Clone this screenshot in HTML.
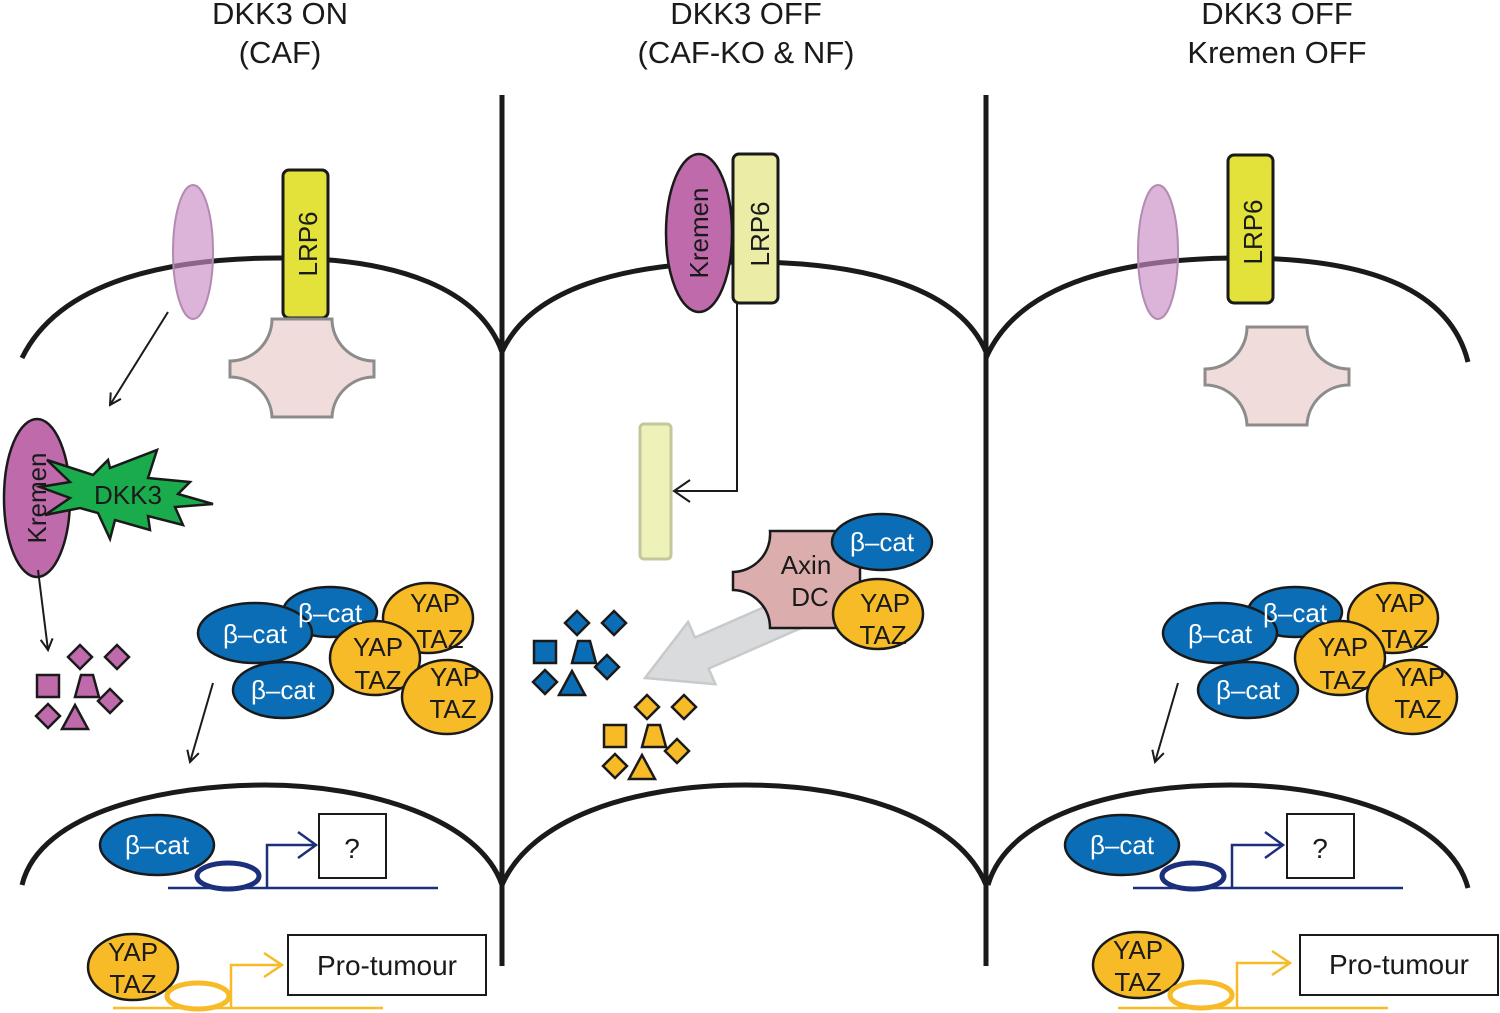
<!DOCTYPE html>
<html><head><meta charset="utf-8"><style>
html,body{margin:0;padding:0;background:#fff;}
svg{display:block;}
text{font-family:"Liberation Sans",Arial,sans-serif;}
</style></head><body>
<svg width="1500" height="1013" viewBox="0 0 1500 1013" xmlns="http://www.w3.org/2000/svg">
<defs>
  <g id="sh" stroke="#1a1a1a" stroke-width="2.5">
    <rect x="-11" y="-11" width="22" height="22"/>
    <polygon points="32,-41 44,-29 32,-17 20,-29"/>
    <polygon points="69,-41 81,-29 69,-17 57,-29"/>
    <polygon points="62,3 74,15 62,27 50,15"/>
    <polygon points="0,18 12,30 0,42 -12,30"/>
    <polygon points="33,-11 45,-11 51,11 27,11"/>
    <polygon points="27,19 40,43 14,43"/>
  </g>
  <marker id="ah" markerWidth="14" markerHeight="14" refX="12" refY="7" orient="auto" markerUnits="userSpaceOnUse">
    <path d="M1,1 L12,7 L1,13" fill="none" stroke="#1a1a1a" stroke-width="2"/>
  </marker>
</defs>

<g font-size="31" fill="#1a1a1a" text-anchor="middle">
  <text x="280" y="24">DKK3 ON</text>
  <text x="280" y="63">(CAF)</text>
  <text x="746" y="24">DKK3 OFF</text>
  <text x="746" y="63">(CAF-KO &amp; NF)</text>
  <text x="1277" y="24">DKK3 OFF</text>
  <text x="1277" y="63">Kremen OFF</text>
</g>

<line x1="502" y1="95" x2="502" y2="966" stroke="#1a1a1a" stroke-width="5"/>
<line x1="986" y1="95" x2="986" y2="966" stroke="#1a1a1a" stroke-width="5"/>

<g fill="none" stroke="#1a1a1a" stroke-width="5">
  <path d="M22,358 C60,280 170,258 280,258 C400,258 480,290 502,352"/>
  <path d="M502,352 C530,290 620,262 745,262 C870,262 960,290 986,352"/>
  <path d="M986,358 C1020,280 1130,258 1240,258 C1370,258 1450,290 1468,362"/>
  <path d="M22,885 C40,810 170,785 265,785 C370,785 480,820 502,885"/>
  <path d="M502,885 C530,820 630,785 745,785 C860,785 960,820 986,885"/>
  <path d="M988,885 C1010,810 1130,785 1230,785 C1340,785 1450,820 1468,888"/>
</g>

<!-- LEFT -->
<ellipse cx="193" cy="252" rx="20" ry="67" fill="#c98ac4" fill-opacity="0.65" stroke="#b38ab0" stroke-width="2"/>
<rect x="283" y="170" width="45" height="148" rx="6" fill="#e2e23a" stroke="#1a1a1a" stroke-width="3"/>
<text transform="translate(317,244) rotate(-90)" font-size="26" text-anchor="middle" fill="#1a1a1a">LRP6</text>
<path d="M272,319 L332,319 A42,42 0 0 0 374,361 L374,377 A42,42 0 0 0 332,417 L272,417 A42,42 0 0 0 230,377 L230,361 A42,42 0 0 0 272,319 Z" fill="#f1dcdc" stroke="#8c8c8c" stroke-width="3"/>
<line x1="168" y1="312" x2="110" y2="405" stroke="#1a1a1a" stroke-width="2" marker-end="url(#ah)"/>

<ellipse cx="37" cy="498" rx="33" ry="79" fill="#be6aab" stroke="#1a1a1a" stroke-width="2.5"/>
<text transform="translate(46,498) rotate(-90)" font-size="26" text-anchor="middle" fill="#1a1a1a">Kremen</text>
<polygon points="47,460 93,475 108,460 110,468 157,450 148,478 190,482 178,494 213,504 175,507 183,525 148,516 150,530 115,520 110,539 98,513 80,508 45,515 70,498 40,487 70,482" fill="#1aac4c" stroke="#1a1a1a" stroke-width="2.5"/>
<text x="128" y="504" font-size="26" text-anchor="middle" fill="#1a1a1a">DKK3</text>
<line x1="38" y1="570" x2="48" y2="650" stroke="#1a1a1a" stroke-width="2" marker-end="url(#ah)"/>
<use href="#sh" transform="translate(48,686)" fill="#be6aab"/>

<g stroke="#1a1a1a" stroke-width="2.5">
  <ellipse cx="330" cy="612" rx="47" ry="25" fill="#0a6db5"/>
  <ellipse cx="255" cy="633" rx="57" ry="30" fill="#0a6db5"/>
  <ellipse cx="283" cy="690" rx="50" ry="28" fill="#0a6db5"/>
  <ellipse cx="428" cy="618" rx="45" ry="35" fill="#f7bb27"/>
  <ellipse cx="375" cy="658" rx="45" ry="37" fill="#f7bb27"/>
  <ellipse cx="447" cy="697" rx="45" ry="37" fill="#f7bb27"/>
</g>
<g font-size="26" fill="#fff" text-anchor="middle">
  <text x="330" y="622">β–cat</text>
  <text x="255" y="643">β–cat</text>
  <text x="283" y="699">β–cat</text>
</g>
<g font-size="26" fill="#1a1a1a" text-anchor="middle">
  <text x="435" y="612">YAP</text><text x="440" y="648">TAZ</text>
  <text x="378" y="656">YAP</text><text x="378" y="689">TAZ</text>
  <text x="455" y="686">YAP</text><text x="453" y="718">TAZ</text>
</g>
<line x1="213" y1="683" x2="190" y2="762" stroke="#1a1a1a" stroke-width="2" marker-end="url(#ah)"/>

<line x1="168" y1="888" x2="438" y2="888" stroke="#1c2f7a" stroke-width="2.5"/>
<ellipse cx="157" cy="845" rx="57" ry="30" fill="#0a6db5" stroke="#1a1a1a" stroke-width="2.5"/>
<text x="157" y="854" font-size="26" fill="#fff" text-anchor="middle">β–cat</text>
<ellipse cx="228" cy="876" rx="31" ry="13" fill="none" stroke="#1c2f7a" stroke-width="5"/>
<path d="M267,888 L267,845 L316,845 M298,832 L316,845 L298,858" fill="none" stroke="#1c2f7a" stroke-width="2.5"/>
<rect x="319" y="814" width="67" height="64" fill="#fff" stroke="#1a1a1a" stroke-width="2"/>
<text x="352" y="858" font-size="28" text-anchor="middle" fill="#1a1a1a">?</text>

<line x1="113" y1="1008" x2="383" y2="1008" stroke="#f7bb27" stroke-width="2.5"/>
<ellipse cx="133" cy="967" rx="45" ry="33" fill="#f7bb27" stroke="#1a1a1a" stroke-width="2.5"/>
<text x="133" y="961" font-size="26" text-anchor="middle" fill="#1a1a1a">YAP</text>
<text x="133" y="993" font-size="26" text-anchor="middle" fill="#1a1a1a">TAZ</text>
<ellipse cx="198" cy="996" rx="31" ry="13" fill="none" stroke="#f7bb27" stroke-width="5"/>
<path d="M231,1008 L231,965 L282,965 M264,953 L282,965 L264,977" fill="none" stroke="#f7bb27" stroke-width="2.5"/>
<rect x="288" y="935" width="198" height="60" fill="#fff" stroke="#1a1a1a" stroke-width="2"/>
<text x="387" y="975" font-size="28" text-anchor="middle" fill="#1a1a1a">Pro-tumour</text>

<!-- MIDDLE -->
<ellipse cx="699" cy="233" rx="33" ry="79" fill="#be6aab" stroke="#1a1a1a" stroke-width="2.5"/>
<text transform="translate(708,233) rotate(-90)" font-size="26" text-anchor="middle" fill="#1a1a1a">Kremen</text>
<rect x="733" y="154" width="45" height="149" rx="6" fill="#ebeda6" stroke="#1a1a1a" stroke-width="3"/>
<text transform="translate(769,234) rotate(-90)" font-size="26" text-anchor="middle" fill="#1a1a1a">LRP6</text>
<path d="M737,303 L737,491 L674,491" fill="none" stroke="#1a1a1a" stroke-width="2"/>
<path d="M690,480 L674,491 L690,502" fill="none" stroke="#1a1a1a" stroke-width="2"/>
<rect x="640" y="424" width="31" height="135" rx="4" fill="#eef2b9" stroke="#c4c79c" stroke-width="3"/>

<g transform="translate(645,678) rotate(156.3)">
  <polygon points="0,0 -62,-34 -62,-17 -175,-17 -175,17 -62,17 -62,34" fill="#d9dbdd" stroke="#c7c9cb" stroke-width="2.5"/>
</g>
<path d="M770,531 L860,531 L860,628 L770,628 A38,38 0 0 0 733,590 L733,572 A38,38 0 0 0 770,531 Z" fill="#dcadad" stroke="#1a1a1a" stroke-width="2.5"/>
<text x="806" y="574" font-size="26" text-anchor="middle" fill="#1a1a1a">Axin</text>
<text x="810" y="606" font-size="26" text-anchor="middle" fill="#1a1a1a">DC</text>
<ellipse cx="882" cy="542" rx="50" ry="28" fill="#0a6db5" stroke="#1a1a1a" stroke-width="2.5"/>
<text x="882" y="551" font-size="26" fill="#fff" text-anchor="middle">β–cat</text>
<ellipse cx="878" cy="614" rx="45" ry="35" fill="#f7bb27" stroke="#1a1a1a" stroke-width="2.5"/>
<text x="885" y="612" font-size="26" text-anchor="middle" fill="#1a1a1a">YAP</text>
<text x="883" y="644" font-size="26" text-anchor="middle" fill="#1a1a1a">TAZ</text>

<use href="#sh" transform="translate(545,652)" fill="#0a6db5"/>
<use href="#sh" transform="translate(615,736)" fill="#f7bb27"/>

<!-- RIGHT -->
<ellipse cx="1158" cy="252" rx="20" ry="67" fill="#c98ac4" fill-opacity="0.65" stroke="#b38ab0" stroke-width="2"/>
<rect x="1228" y="155" width="45" height="148" rx="6" fill="#e2e23a" stroke="#1a1a1a" stroke-width="3"/>
<text transform="translate(1262,232) rotate(-90)" font-size="26" text-anchor="middle" fill="#1a1a1a">LRP6</text>
<path d="M1247,327 L1307,327 A42,42 0 0 0 1349,369 L1349,385 A42,42 0 0 0 1307,425 L1247,425 A42,42 0 0 0 1205,385 L1205,369 A42,42 0 0 0 1247,327 Z" fill="#f1dcdc" stroke="#8c8c8c" stroke-width="3"/>

<g stroke="#1a1a1a" stroke-width="2.5">
  <ellipse cx="1295" cy="612" rx="47" ry="25" fill="#0a6db5"/>
  <ellipse cx="1220" cy="633" rx="57" ry="30" fill="#0a6db5"/>
  <ellipse cx="1248" cy="690" rx="50" ry="28" fill="#0a6db5"/>
  <ellipse cx="1393" cy="618" rx="45" ry="35" fill="#f7bb27"/>
  <ellipse cx="1340" cy="658" rx="45" ry="37" fill="#f7bb27"/>
  <ellipse cx="1412" cy="697" rx="45" ry="37" fill="#f7bb27"/>
</g>
<g font-size="26" fill="#fff" text-anchor="middle">
  <text x="1295" y="622">β–cat</text>
  <text x="1220" y="643">β–cat</text>
  <text x="1248" y="699">β–cat</text>
</g>
<g font-size="26" fill="#1a1a1a" text-anchor="middle">
  <text x="1400" y="612">YAP</text><text x="1405" y="648">TAZ</text>
  <text x="1343" y="656">YAP</text><text x="1343" y="689">TAZ</text>
  <text x="1420" y="686">YAP</text><text x="1418" y="718">TAZ</text>
</g>
<line x1="1178" y1="683" x2="1155" y2="762" stroke="#1a1a1a" stroke-width="2" marker-end="url(#ah)"/>

<line x1="1133" y1="888" x2="1403" y2="888" stroke="#1c2f7a" stroke-width="2.5"/>
<ellipse cx="1122" cy="845" rx="57" ry="30" fill="#0a6db5" stroke="#1a1a1a" stroke-width="2.5"/>
<text x="1122" y="854" font-size="26" fill="#fff" text-anchor="middle">β–cat</text>
<ellipse cx="1193" cy="876" rx="31" ry="13" fill="none" stroke="#1c2f7a" stroke-width="5"/>
<path d="M1232,888 L1232,845 L1283,845 M1265,832 L1283,845 L1265,858" fill="none" stroke="#1c2f7a" stroke-width="2.5"/>
<rect x="1287" y="814" width="67" height="64" fill="#fff" stroke="#1a1a1a" stroke-width="2"/>
<text x="1320" y="858" font-size="28" text-anchor="middle" fill="#1a1a1a">?</text>

<line x1="1118" y1="1008" x2="1388" y2="1008" stroke="#f7bb27" stroke-width="2.5"/>
<ellipse cx="1138" cy="965" rx="45" ry="33" fill="#f7bb27" stroke="#1a1a1a" stroke-width="2.5"/>
<text x="1138" y="959" font-size="26" text-anchor="middle" fill="#1a1a1a">YAP</text>
<text x="1138" y="991" font-size="26" text-anchor="middle" fill="#1a1a1a">TAZ</text>
<ellipse cx="1201" cy="995" rx="31" ry="13" fill="none" stroke="#f7bb27" stroke-width="5"/>
<path d="M1237,1008 L1237,963 L1290,963 M1272,951 L1290,963 L1272,975" fill="none" stroke="#f7bb27" stroke-width="2.5"/>
<rect x="1300" y="935" width="198" height="60" fill="#fff" stroke="#1a1a1a" stroke-width="2"/>
<text x="1399" y="974" font-size="28" text-anchor="middle" fill="#1a1a1a">Pro-tumour</text>
</svg>
</body></html>
